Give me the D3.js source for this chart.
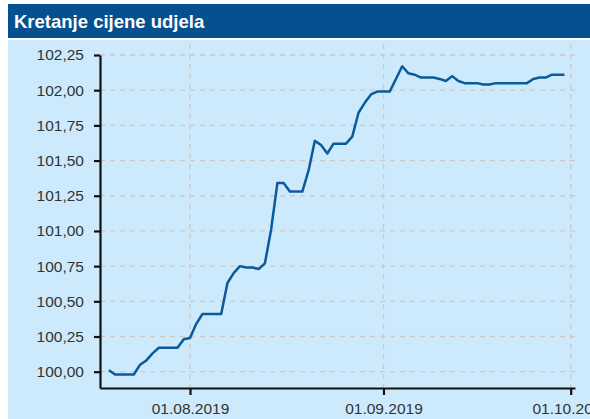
<!DOCTYPE html>
<html>
<head>
<meta charset="utf-8">
<script src="https://cdn.jsdelivr.net/npm/d3@7"></script>
<style>
  body { margin: 0; background: #fff; }
  svg { display: block; font-family: "Liberation Sans", Arial, sans-serif; }
</style>
</head>
<body>
<svg width="590" height="419"></svg>
<script>
// chart data
const title = 'Kretanje cijene udjela'
const startDate = Date.UTC(2019, 6, 19)
const prices = [
    100.01, 99.98, 99.98, 99.98, 99.98, 100.05, 100.08, 100.13, 100.17, 100.17, 100.17, 100.17, 100.23,   // 19.07 - 31.07
    100.24, 100.34, 100.41, 100.41, 100.41, 100.41, 100.63, 100.70, 100.75, 100.74, 100.74, 100.73, 100.77,  // 01.08 - 13.08
    101.01, 101.34, 101.34, 101.28, 101.28, 101.28, 101.43, 101.64, 101.61, 101.55, 101.62, 101.62, 101.62,  // 14.08 - 26.08
    101.67, 101.84, 101.91, 101.97, 101.99,                                                                  // 27.08 - 31.08
    101.99, 101.99, 102.08, 102.17, 102.12, 102.11, 102.09, 102.09, 102.09, 102.08, 102.065, 102.10, 102.065, // 01.09 - 13.09
    102.05, 102.05, 102.05, 102.04, 102.04, 102.05, 102.05, 102.05, 102.05, 102.05, 102.05, 102.08, 102.09,  // 14.09 - 26.09
    102.09, 102.11, 102.11, 102.11                                                                           // 27.09 - 30.09
]
const yTicks = [100, 100.25, 100.5, 100.75, 101, 101.25, 101.5, 101.75, 102, 102.25]
const xTicks = [Date.UTC(2019, 7, 1), Date.UTC(2019, 8, 1), Date.UTC(2019, 9, 1)]

const data = prices.map((v, i) => ({ date: new Date(startDate + i * 864e5), value: v }))

function drawChart() {
    const svg = d3.select('svg')
    const plot = { left: 100, right: 575, top: 44, bottom: 388 }

    // header bar + panel
    svg.append('rect')
        .attr('x', 8).attr('y', 4).attr('width', 582).attr('height', 34)
        .attr('fill', '#05508f')
    svg.append('rect')
        .attr('x', 8).attr('y', 40).attr('width', 582).attr('height', 379)
        .attr('fill', '#cdeafc')
    svg.append('text')
        .attr('x', 14).attr('y', 27.5)
        .attr('fill', '#fff')
        .style('font-size', '18.5px')
        .style('font-weight', 700)
        .text(title)

    // x: anchor months to the ticks in the picture, then stretch to the plot edges
    const x = d3.scaleUtc()
        .domain([xTicks[0], xTicks[2]])
        .range([190, 570.7])
    x.domain([x.invert(plot.left), x.invert(plot.right)]).range([plot.left, plot.right])

    const y = d3.scaleLinear()
        .domain([100, 102.25])
        .range([371.7, 55])
    y.domain([y.invert(plot.bottom), 102.25]).range([plot.bottom, 55])

    const fmt = d3.formatLocale({ decimal: ',', thousands: '.', grouping: [3], currency: ['', ' kn'] })
    const yFormat = fmt.format('.2f')
    const xFormat = d3.utcFormat('%d.%m.%Y')

    // grid
    const grid = svg.append('g')
        .attr('stroke', '#c9c9c9')
        .attr('stroke-width', 1.3)
        .attr('stroke-dasharray', '5,5')
    grid.selectAll('.hgrid')
        .data(yTicks)
        .join('line')
            .attr('class', 'hgrid')
            .attr('x1', plot.left).attr('x2', plot.right)
            .attr('y1', d => y(d)).attr('y2', d => y(d))
    grid.selectAll('.vgrid')
        .data(xTicks)
        .join('line')
            .attr('class', 'vgrid')
            .attr('x1', d => x(d)).attr('x2', d => x(d))
            .attr('y1', plot.top).attr('y2', plot.bottom)

    // line
    svg.append('path')
        .datum(data)
        .attr('fill', 'none')
        .attr('stroke', '#0b5a9b')
        .attr('stroke-width', 2.5)
        .attr('stroke-linejoin', 'round')
        .attr('d', d3.line()
            .x(d => x(d.date))
            .y(d => y(d.value)))

    // axes
    const yAxis = svg.append('g')
        .attr('transform', `translate(${plot.left},0)`)
        .call(d3.axisLeft(y).tickValues(yTicks).tickFormat(yFormat).tickSizeInner(6).tickSizeOuter(0).tickPadding(10))
    const xAxis = svg.append('g')
        .attr('transform', `translate(0,${plot.bottom})`)
        .call(d3.axisBottom(x).tickValues(xTicks.map(d => new Date(d))).tickFormat(xFormat).tickSizeInner(7).tickSizeOuter(0).tickPadding(8))

    for (const ax of [yAxis, xAxis]) {
        ax.select('.domain').attr('stroke', '#111').attr('stroke-width', 2.2)
        ax.selectAll('.tick line').attr('stroke', '#111').attr('stroke-width', 2.2)
        ax.selectAll('.tick text')
            .attr('fill', '#333')
            .style('font-size', '15.5px')
            .style('font-family', '"Liberation Sans", Arial, sans-serif')
    }
}

drawChart()
</script>
</body>
</html>
